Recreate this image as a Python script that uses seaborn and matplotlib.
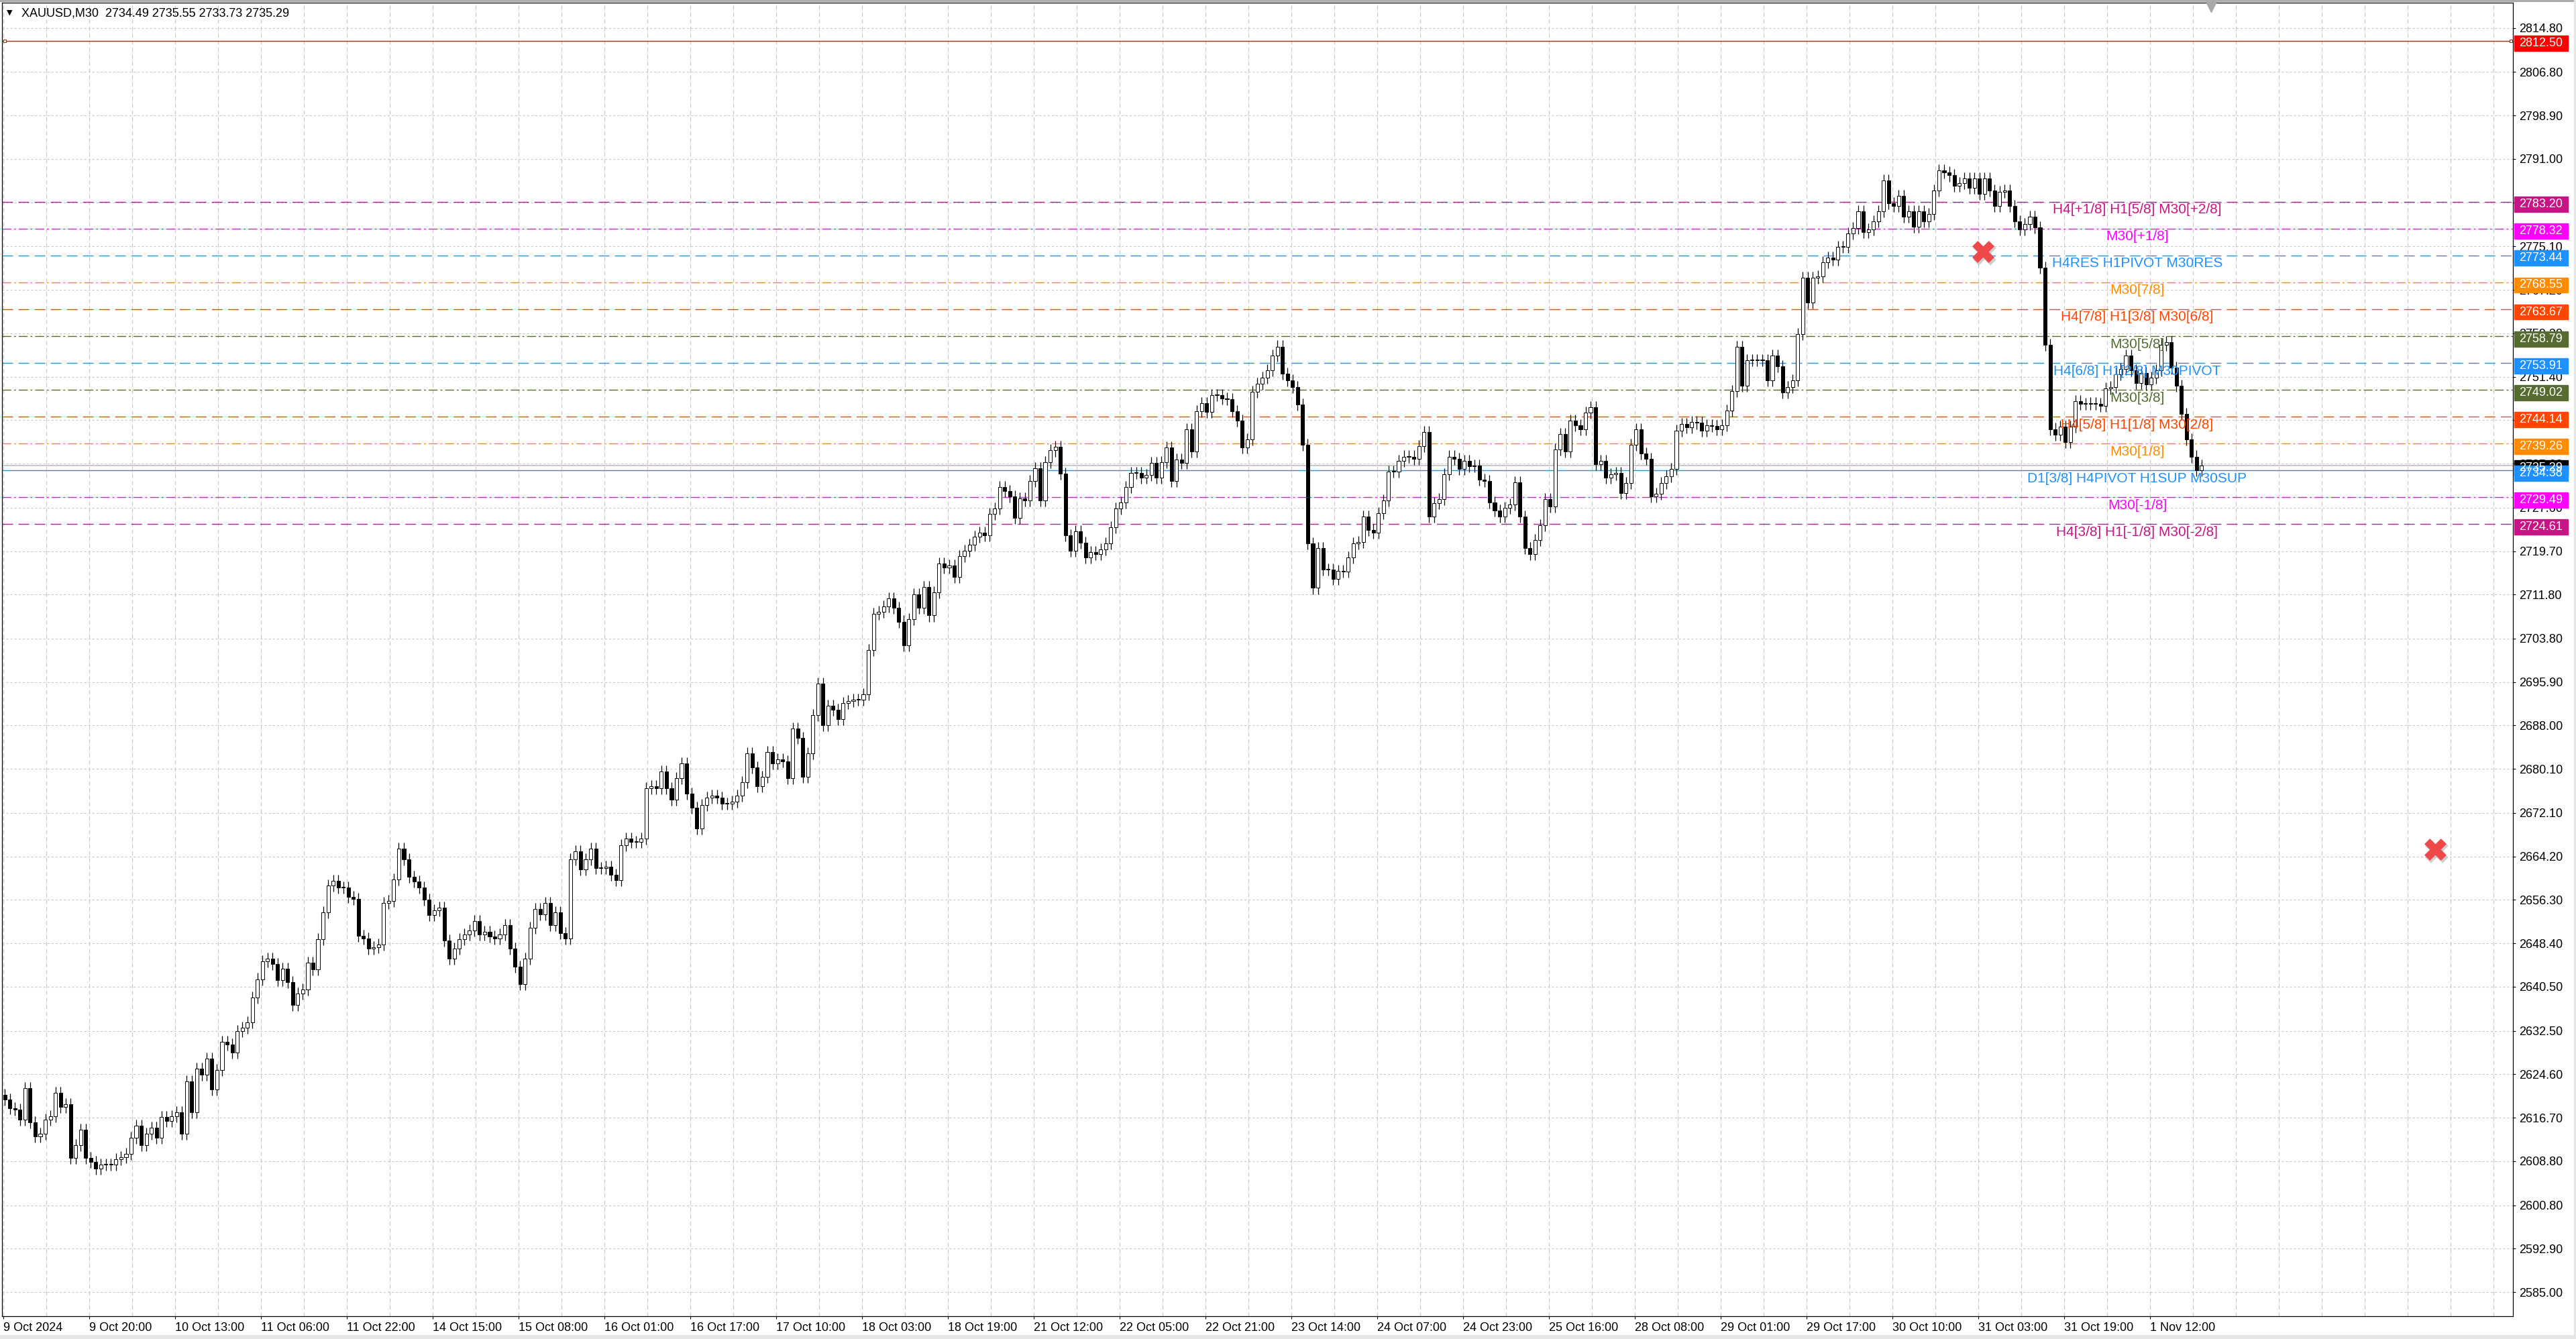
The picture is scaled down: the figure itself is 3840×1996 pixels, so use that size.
import numpy as np
import pandas as pd
import seaborn as sns
import matplotlib
matplotlib.use("Agg")
import matplotlib.pyplot as plt
from matplotlib.patches import Rectangle
from matplotlib import transforms

# XAUUSD closes, one value per 2 M30 bars
closes = [
    2620.0, 2618.4, 2618.2, 2616.3, 2622.1, 2615.9, 2613.3, 2613.8, 2616.3, 2617.0,
    2621.2, 2618.7, 2619.1, 2609.4, 2611.7, 2614.5, 2609.4, 2608.7, 2607.5, 2608.2,
    2608.2, 2608.2, 2609.1, 2609.5, 2610.1, 2613.1, 2615.2, 2611.7, 2613.8, 2614.9,
    2613.1, 2616.8, 2616.1, 2617.0, 2617.7, 2613.8, 2623.3, 2617.7, 2625.6, 2624.5,
    2627.5, 2621.9, 2625.4, 2630.5, 2630.0, 2628.6, 2632.4, 2633.1, 2634.0, 2638.6,
    2641.9, 2645.1, 2645.6, 2644.7, 2641.7, 2643.8, 2641.4, 2637.2, 2639.3, 2640.0,
    2644.9, 2643.7, 2649.1, 2654.0, 2658.9, 2659.8, 2658.6, 2658.6, 2656.8, 2656.5,
    2649.8, 2649.3, 2647.5, 2647.7, 2648.2, 2655.8, 2656.1, 2660.0, 2665.6, 2663.7,
    2660.5, 2659.6, 2658.6, 2656.3, 2653.5, 2654.4, 2654.9, 2648.9, 2645.6, 2647.5,
    2649.1, 2650.0, 2650.7, 2652.4, 2650.0, 2650.5, 2649.6, 2649.3, 2650.0, 2651.7,
    2647.5, 2644.2, 2641.0, 2645.6, 2651.2, 2654.7, 2653.7, 2655.8, 2651.7, 2654.0,
    2650.3, 2649.3, 2663.7, 2665.1, 2661.9, 2663.7, 2665.6, 2662.1, 2662.1, 2662.3,
    2660.9, 2659.9, 2666.2, 2667.5, 2666.8, 2666.8, 2667.5, 2676.6, 2677.0, 2676.6,
    2679.7, 2676.6, 2674.5, 2678.4, 2681.1, 2675.6, 2673.1, 2669.3, 2673.5, 2674.9,
    2675.2, 2674.9, 2673.8, 2673.8, 2674.2, 2675.2, 2677.7, 2682.9, 2680.4, 2677.0,
    2678.7, 2683.2, 2681.1, 2681.8, 2681.5, 2678.4, 2687.4, 2685.7, 2678.7, 2682.9,
    2689.9, 2695.6, 2688.1, 2691.6, 2690.9, 2689.2, 2692.1, 2692.5, 2692.7, 2692.7,
    2693.7, 2701.7, 2708.3, 2708.7, 2709.7, 2711.1, 2709.4, 2706.9, 2702.6, 2707.3,
    2711.8, 2709.4, 2713.2, 2708.0, 2712.2, 2717.4, 2716.7, 2717.1, 2715.0, 2718.8,
    2719.8, 2720.9, 2722.3, 2723.0, 2722.6, 2726.5, 2727.5, 2731.3, 2730.6, 2729.6,
    2725.8, 2729.3, 2728.9, 2732.4, 2734.8, 2728.9, 2735.9, 2738.0, 2738.7, 2733.8,
    2722.6, 2719.8, 2723.3, 2721.2, 2718.5, 2719.5, 2719.1, 2720.0, 2721.1, 2724.0,
    2727.4, 2728.6, 2731.3, 2733.9, 2733.9, 2733.1, 2733.5, 2735.7, 2733.1, 2735.9,
    2738.5, 2732.5, 2736.3, 2735.7, 2741.8, 2737.8, 2745.1, 2746.6, 2745.0, 2748.1,
    2748.1, 2747.5, 2747.3, 2745.1, 2743.4, 2738.5, 2740.0, 2748.7, 2750.1, 2751.2,
    2752.6, 2755.2, 2756.9, 2752.0, 2750.8, 2749.5, 2746.3, 2739.0, 2721.1, 2713.0,
    2720.3, 2716.3, 2716.3, 2714.6, 2716.1, 2716.0, 2718.5, 2721.1, 2721.3, 2726.0,
    2723.6, 2723.1, 2726.6, 2728.9, 2734.1, 2734.1, 2736.1, 2736.9, 2736.9, 2736.5,
    2738.8, 2741.4, 2726.0, 2728.4, 2729.2, 2733.7, 2736.9, 2736.5, 2734.7, 2736.1,
    2735.1, 2735.3, 2732.7, 2732.5, 2728.6, 2727.1, 2726.0, 2727.6, 2728.2, 2732.2,
    2726.0, 2720.3, 2719.1, 2721.7, 2724.4, 2729.2, 2727.8, 2738.2, 2741.0, 2737.8,
    2743.4, 2742.6, 2741.8, 2744.9, 2745.9, 2735.5, 2736.1, 2733.1, 2733.7, 2733.9,
    2730.3, 2732.1, 2739.0, 2741.8, 2737.4, 2736.5, 2729.7, 2730.1, 2732.1, 2733.3,
    2734.7, 2741.6, 2742.8, 2742.2, 2743.2, 2743.0, 2741.6, 2742.6, 2742.4, 2741.8,
    2742.6, 2745.2, 2748.8, 2756.8, 2749.8, 2754.4, 2754.4, 2754.4, 2754.4, 2750.7,
    2755.3, 2753.3, 2748.6, 2749.5, 2750.7, 2759.1, 2769.4, 2764.9, 2769.4, 2769.6,
    2772.2, 2773.0, 2772.7, 2775.0, 2775.0, 2777.5, 2778.4, 2781.5, 2777.7, 2778.2,
    2779.6, 2781.5, 2787.1, 2782.9, 2782.4, 2784.3, 2780.5, 2781.5, 2778.7, 2781.5,
    2779.6, 2781.0, 2785.2, 2788.9, 2788.5, 2788.0, 2786.1, 2786.6, 2787.5, 2785.7,
    2787.5, 2784.7, 2787.5, 2785.2, 2782.4, 2785.0, 2785.2, 2782.4, 2779.6, 2778.2,
    2779.1, 2780.5, 2778.6, 2771.2, 2757.2, 2741.9, 2740.9, 2742.3, 2739.5, 2742.3,
    2747.0, 2746.5, 2746.5, 2746.6, 2746.5, 2746.1, 2749.3, 2749.5, 2751.9, 2752.8,
    2755.3, 2752.6, 2750.2, 2752.1, 2750.0, 2751.2, 2752.6, 2757.2, 2757.7, 2753.0,
    2749.8, 2744.7, 2740.0, 2736.9, 2734.4, 2735.29,
]
first_open = 2620.9

level_prices = [2783.20, 2778.32, 2773.44, 2768.55, 2763.67, 2758.79, 2753.91,
                2749.02, 2744.14, 2739.26, 2734.38, 2729.49, 2724.61]
level_names = ["H4[+1/8] H1[5/8] M30[+2/8]", "M30[+1/8]", "H4RES H1PIVOT M30RES",
               "M30[7/8]", "H4[7/8] H1[3/8] M30[6/8]", "M30[5/8]",
               "H4[6/8] H1[2/8] M30PIVOT", "M30[3/8]", "H4[5/8] H1[1/8] M30[2/8]",
               "M30[1/8]", "D1[3/8] H4PIVOT H1SUP M30SUP", "M30[-1/8]",
               "H4[3/8] H1[-1/8] M30[-2/8]"]
level_colors = ["#C71585", "#FF00FF", "#1E90FF", "#FF8C00", "#FF4500", "#556B2F",
                "#1E90FF", "#556B2F", "#FF4500", "#FF8C00", "#1E90FF", "#FF00FF",
                "#C71585"]
level_kinds = ["dash", "dashdot", "dash", "dashdot", "dash", "dashdot", "dash",
               "dashdot", "dash", "dashdot", "solid", "dashdot", "dash"]

top_level = 2812.50
last_price = 2735.29
title = "XAUUSD,M30  2734.49 2735.55 2733.73 2735.29"

tick_prices = [2814.80, 2806.80, 2798.90, 2791.00, 2783.10, 2775.10, 2767.20, 2759.30,
               2751.40, 2743.50, 2735.60, 2727.60, 2719.70, 2711.80, 2703.80, 2695.90,
               2688.00, 2680.10, 2672.10, 2664.20, 2656.30, 2648.40, 2640.50, 2632.50,
               2624.60, 2616.70, 2608.80, 2600.80, 2592.90, 2585.00]
time_labels = ["9 Oct 2024", "9 Oct 20:00", "10 Oct 13:00", "11 Oct 06:00", "11 Oct 22:00",
               "14 Oct 15:00", "15 Oct 08:00", "16 Oct 01:00", "16 Oct 17:00", "17 Oct 10:00",
               "18 Oct 03:00", "18 Oct 19:00", "21 Oct 12:00", "22 Oct 05:00", "22 Oct 21:00",
               "23 Oct 14:00", "24 Oct 07:00", "24 Oct 23:00", "25 Oct 16:00", "28 Oct 08:00",
               "29 Oct 01:00", "29 Oct 17:00", "30 Oct 10:00", "31 Oct 03:00", "31 Oct 19:00",
               "1 Nov 12:00"]

cross_bars = [783.9, 963.0]
cross_prices = [2774.2, 2665.5]

BARS_PER_CANDLE = 2
BARS_PER_LABEL = 34

sns.set_theme(style="white")
plt.rcParams["font.family"] = ["Liberation Sans", "DejaVu Sans"]
plt.rcParams["lines.scale_dashes"] = False

W, H = 3840, 1996
fig = plt.figure(figsize=(W / 100, H / 100), dpi=100)
fig.patch.set_facecolor("white")
ax = fig.add_axes([3 / W, 34 / H, 3743 / W, 1958 / H])
ax.set_facecolor("white")

df = pd.DataFrame({"close": closes})
df["open"] = df["close"].shift(1).fillna(first_open)
df["x"] = df.index * BARS_PER_CANDLE + 0.5
df["lo"] = df[["open", "close"]].min(axis=1)
df["hi"] = df[["open", "close"]].max(axis=1)
bull = df["close"] >= df["open"]

wick = 1.1
ax.vlines(df["x"], df["lo"] - wick, df["hi"] + wick, color="black", lw=0.9, zorder=3)
ax.bar(df["x"], (df["hi"] - df["lo"]).clip(lower=0.12), bottom=df["lo"], width=1.35,
       color=np.where(bull, "white", "black"), edgecolor="black", linewidth=0.7, zorder=4)

dash_styles = {"dash": (0, (11.5, 5.8)), "dashdot": (0, (9.6, 3.0, 2.0, 3.0)), "solid": "-"}
for p, name, c, k in zip(level_prices, level_names, level_colors, level_kinds):
    ax.axhline(p, color=c, lw=1.0, linestyle=dash_styles[k], zorder=2)
    ax.annotate(name, xy=(845.0, p), xytext=(0, -12), textcoords="offset pixels",
                ha="center", va="center", color=c, fontsize=15, zorder=5)

ax.axhline(top_level, color="red", lw=1.0, zorder=2)
ax.plot([0.4, 993.0], [top_level, top_level], ls="none", marker="s", ms=3.5,
        mfc="white", mec="red", mew=0.8, zorder=5, clip_on=False)
ax.axhline(last_price, color="#C0C0C0", lw=1.2, zorder=2)

# red crosses with a soft shadow
sns.scatterplot(x=[b + 0.6 for b in cross_bars], y=[p - 0.35 for p in cross_prices],
                marker="X", s=620, color="#B0B0B0", alpha=0.6, linewidth=0, ax=ax, zorder=6)
sns.scatterplot(x=cross_bars, y=cross_prices, marker="X", s=560, color="#F04848",
                linewidth=0, ax=ax, zorder=7)
ax.plot([874.2], [2818.7], marker="v", ms=12, color="#A8A8A8", ls="none", zorder=7, clip_on=False)

ax.set_xlim(-0.64, 993.8)
ax.set_ylim(2580.62, 2819.40)

ax.yaxis.tick_right()
ax.set_yticks(tick_prices)
ax.set_yticklabels([f"{p:.2f}" for p in tick_prices])
ax.set_xticks([k * BARS_PER_LABEL for k in range(len(time_labels))])
ax.set_xticklabels(time_labels, ha="left")
ax.set_xticks(np.arange(17, 994, 17), minor=True)
ax.tick_params(axis="both", which="major", length=3, width=0.8, color="black",
               labelsize=13, labelcolor="black", pad=3.5)
ax.tick_params(axis="y", right=True, left=False)
ax.tick_params(axis="x", bottom=True, which="major")
ax.tick_params(axis="x", which="minor", length=0)

ax.set_axisbelow(True)
ax.grid(axis="y", which="major", color="#C8C8C8", linestyle=(0, (2.2, 2.2)), lw=0.8)
ax.grid(axis="x", which="both", color="#C8C8C8", linestyle=(0, (4.5, 3.0)), lw=0.8)
for s in ax.spines.values():
    s.set_color("black")
    s.set_linewidth(0.9)

# price boxes on the right scale
box_prices = [top_level] + level_prices[:10] + [last_price] + level_prices[10:]
box_colors = ["#FF0000"] + level_colors[:10] + ["#000000"] + level_colors[10:]
tr = transforms.blended_transform_factory(fig.transFigure, ax.transData)
for p, c in zip(box_prices, box_colors):
    ax.add_patch(Rectangle((3748 / W, p - 1.89), 80 / W, 2.8, transform=tr,
                           facecolor=c, edgecolor=c, clip_on=False, zorder=10))
    ax.text(3755 / W, p - 0.49, f"{p:.2f}", transform=tr, color="white", fontsize=13,
            ha="left", va="center", clip_on=False, zorder=11)

# title and window decoration
fig.text(14 / W, 1 - 19 / H, "\u25BC", fontsize=8, family="DejaVu Sans",
         ha="center", va="center", color="black")
fig.text(32 / W, 1 - 20 / H, title, fontsize=13, ha="left", va="center", color="black")
fig.patches.append(Rectangle((0, 1 - 3 / H), 1, 3 / H, transform=fig.transFigure,
                             facecolor="#ABABAB", edgecolor="none"))
fig.patches.append(Rectangle((0, 0), 1, 6 / H, transform=fig.transFigure,
                             facecolor="#E6E6E6", edgecolor="none"))
fig.patches.append(Rectangle((1 - 3 / W, 0), 3 / W, 1, transform=fig.transFigure,
                             facecolor="#E6E6E6", edgecolor="none"))

fig.savefig("out.png", dpi=100)
